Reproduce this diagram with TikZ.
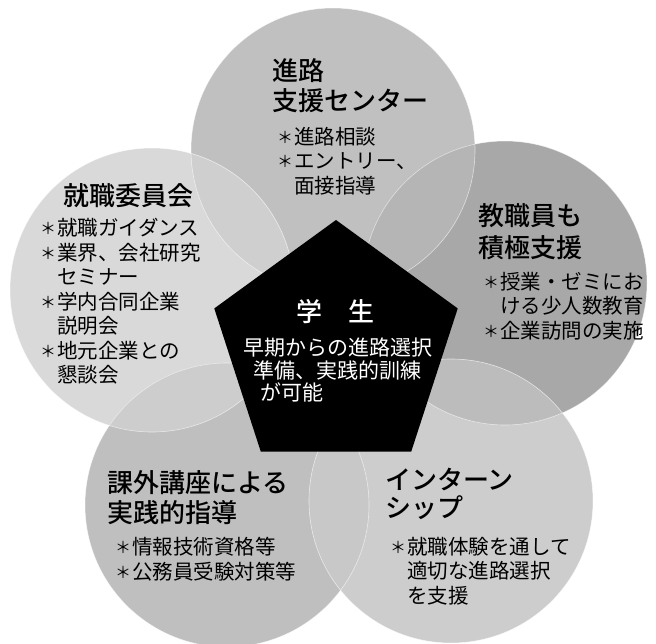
\documentclass[tikz,border=0pt]{standalone}
\usepackage{fontspec}
\setmainfont{Noto Sans CJK JP}
\newfontfamily\headfont{Noto Sans CJK JP Medium}
\usetikzlibrary{shapes.geometric}

\definecolor{cTop}{HTML}{C0C0C0}
\definecolor{cLeft}{HTML}{D9D9D9}
\definecolor{cRight}{HTML}{A8A8A8}
\definecolor{cBotL}{HTML}{BFBFBF}
\definecolor{cBotR}{HTML}{CDCDCD}
\definecolor{cTopLeft}{HTML}{CFCFCF}
\definecolor{cTopRight}{HTML}{B5B5B5}
\definecolor{cRightBotR}{HTML}{BCBCBC}
\definecolor{cBotRBotL}{HTML}{C8C8C8}
\definecolor{cBotLLeft}{HTML}{CDCDCD}

\tikzstyle{title} = [anchor=north west, inner sep=0, align=left, font=\fontsize{26}{30}\selectfont\headfont]
\tikzstyle{items} = [anchor=north west, inner sep=0, align=left, font=\fontsize{20.5}{24.5}\selectfont]
\tikzstyle{rim} = [draw=white, draw opacity=0.6, line width=0.6pt]

\newcommand{\bul}{\makebox[17pt][l]{\raisebox{1pt}{\fontsize{16}{16}\selectfont ＊}}}
\newcommand{\cont}{\hspace*{17pt}}

\begin{document}
\begin{tikzpicture}[x=1pt, y=-1pt]
      \useasboundingbox (0,0) rectangle (656,644);

      \coordinate (ctop) at (333,150);
      \coordinate (cleft) at (152,290);
      \coordinate (cright) at (505,283);
      \coordinate (cbotl) at (227,505);
      \coordinate (cbotr) at (451,501);

      \fill[cTop] (ctop) circle[radius=142pt];
      \fill[cLeft] (cleft) circle[radius=142pt];
      \fill[cRight] (cright) circle[radius=142pt];
      \fill[cBotL] (cbotl) circle[radius=142pt];
      \fill[cBotR] (cbotr) circle[radius=142pt];

      % overlaps
      \begin{scope}
        \clip (ctop) circle[radius=142pt];
        \fill[cTopLeft] (cleft) circle[radius=142pt];
        \fill[cTopRight] (cright) circle[radius=142pt];
      \end{scope}
      \begin{scope}
        \clip (cbotr) circle[radius=142pt];
        \fill[cRightBotR] (cright) circle[radius=142pt];
        \fill[cBotRBotL] (cbotl) circle[radius=142pt];
      \end{scope}
      \begin{scope}
        \clip (cleft) circle[radius=142pt];
        \fill[cBotLLeft] (cbotl) circle[radius=142pt];
      \end{scope}

      \foreach \c in {ctop, cleft, cright, cbotl, cbotr}
        \draw[rim] (\c) circle[radius=142pt];

      \node (student) [regular polygon, regular polygon sides=5, minimum size=256pt, inner sep=0, fill=black] at (336,348) {};

      \node (studenttitle) [font=\fontsize{26}{30}\selectfont\headfont, text=white, inner sep=0] at (335,312) {学　生};
      \node (studenttext) [items, font=\fontsize{21}{22.5}\selectfont, text=white] at (243,338) {早期からの進路選択\\\hspace*{10pt}準備、実践的訓練\\\hspace*{17pt}が可能};

      \node (shinro) [title] at (272,58) {進路\\支援センター};
      \node (shinroitems) [items] at (277,127) {\bul 進路相談\\\bul エントリー、\\\cont 面接指導};

      \node (shushoku) [title] at (63,183) {就職委員会};
      \node (shushokuitems) [items] at (40,218) {\bul 就職ガイダンス\\\bul 業界、会社研究\\\cont セミナー\\\bul 学内合同企業\\\cont 説明会\\\bul 地元企業との\\\cont 懇談会};

      \node (kyoshoku) [title, font=\fontsize{26}{32}\selectfont\headfont] at (478,203) {教職員も\\積極支援};
      \node (kyoshokuitems) [items] at (483,272) {\bul 授業・ゼミにお\\\cont ける少人数教育\\\bul 企業訪問の実施};

      \node (kagai) [title] at (107,470) {課外講座による\\実践的指導};
      \node (kagaiitems) [items] at (115,537) {\bul 情報技術資格等\\\bul 公務員受験対策等};

      \node (intern) [title, font=\fontsize{26}{28}\selectfont\headfont] at (385,468) {インターン\\シップ};
      \node (internitems) [items] at (390,537) {\bul 就職体験を通して\\\cont 適切な進路選択\\\cont を支援};

\end{tikzpicture}
\end{document}
